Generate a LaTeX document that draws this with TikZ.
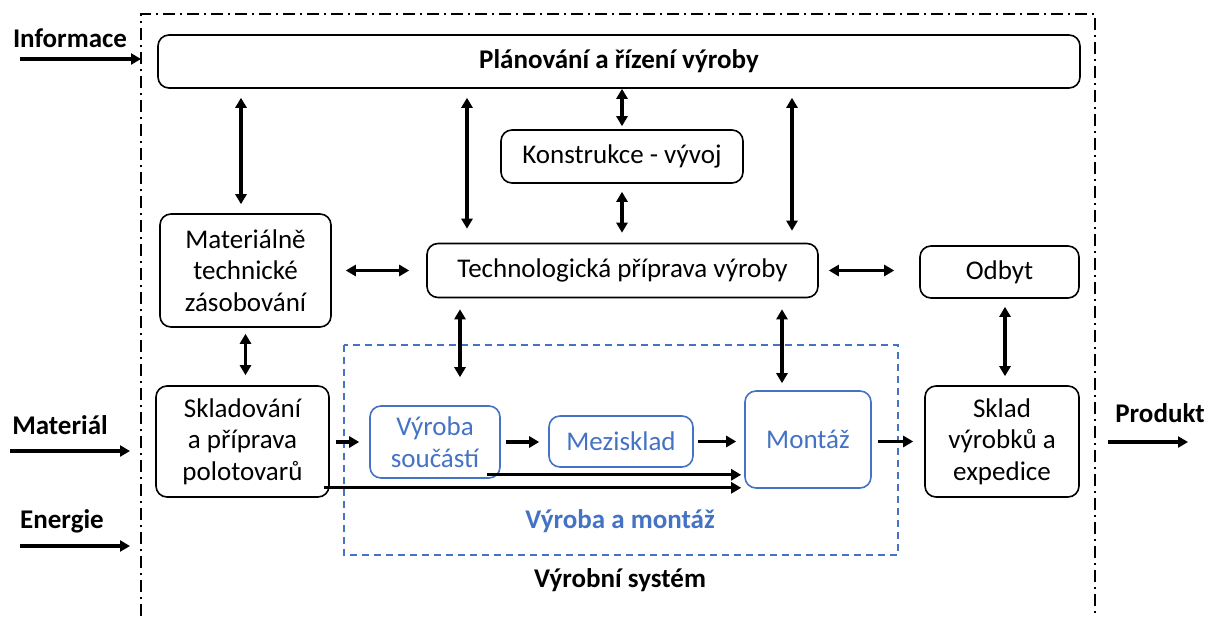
\documentclass[tikz,border=0pt]{standalone}
\usepackage{fontspec}
\setmainfont{Carlito}
\usetikzlibrary{arrows.meta,calc}
\definecolor{accent}{HTML}{4472C4}
\tikzset{
  box/.style={draw, line width=1.6pt, rounded corners=11pt, align=center,
    inner sep=2pt, font=\fontsize{27}{31.5}\selectfont},
  bluebox/.style={box, draw=accent, text=accent},
  dbl/.style={{Triangle[length=10pt,width=11pt]}-{Triangle[length=10pt,width=11pt]}, line width=3.2pt},
  sgl/.style={-{Triangle[length=10pt,width=11pt]}, line width=3.2pt},
  lbl/.style={font=\fontsize{27}{31}\selectfont\bfseries},
}
\begin{document}
\begin{tikzpicture}[x=1pt,y=-1pt]
\useasboundingbox (0,0) rectangle (1205,616);

% system boundary
\draw[line width=1.4pt, dash pattern=on 12pt off 5pt on 2pt off 5pt]
  (141,616) -- (141,14) -- (1095,14) -- (1095,616);
% production and assembly area
\draw[accent, line width=1.3pt, dash pattern=on 7pt off 5pt] (344,345) rectangle (898,555);

% blocks
\node[box, minimum width=922pt, minimum height=53pt, font=\fontsize{27}{31}\selectfont\bfseries] (plan) at (619,61.5) {Plánování a řízení výroby};
\node[box, minimum width=242pt, minimum height=53pt] (kon) at (622,156.5) {Konstrukce - vývoj};
\node[box, minimum width=171pt, minimum height=113pt] (mat) at (245.5,270.5) {Materiálně\\technické\\zásobování};
\node[box, minimum width=391pt, minimum height=54pt] (tech) at (622.5,270.5) {Technologická příprava výroby};
\node[box, minimum width=159pt, minimum height=52pt] (odb) at (999.5,272) {Odbyt};
\node[box, minimum width=173pt, minimum height=111pt] (skl) at (242.5,441.5) {Skladování\\a příprava\\polotovarů};
\node[box, minimum width=154pt, minimum height=111pt] (exp) at (1002,441.5) {Sklad\\výrobků a\\expedice};
\node[bluebox, minimum width=130pt, minimum height=72pt] (vys) at (435,442) {Výroba\\součástí};
\node[bluebox, minimum width=144pt, minimum height=51pt] (mez) at (621,441.5) {Mezisklad};
\node[bluebox, minimum width=126pt, minimum height=97pt] (mon) at (808,439.5) {Montáž};

% labels
\node[lbl, text=accent] (vam) at (620,521) {Výroba a montáž};
\node[lbl] (sys) at (620,580) {Výrobní systém};
\node[lbl] (inf) at (70,38) {Informace};
\node[lbl] (mtl) at (60,425) {Materiál};
\node[lbl] (ene) at (62,521) {Energie};
\node[lbl] (pro) at (1160,413) {Produkt};

% inputs and output
\coordinate (infA) at (20,59);  \coordinate (infB) at (141,59);
\coordinate (mtlA) at (10,451); \coordinate (mtlB) at (130,451);
\coordinate (eneA) at (20,546); \coordinate (eneB) at (130,546);
\coordinate (proA) at (1108,442); \coordinate (proB) at (1188,442);
\draw[sgl] (infA) -- (infB);
\draw[sgl] (mtlA) -- (mtlB);
\draw[sgl] (eneA) -- (eneB);
\draw[sgl] (proA) -- (proB);

% information links
\draw[dbl, shorten <=9pt, shorten >=9pt] ([xshift=-4.5pt]mat.north |- plan.south) -- ([xshift=-4.5pt]mat.north);
\draw[dbl, shorten <=9pt, shorten >=14pt] ([xshift=-155.5pt]tech.north |- plan.south) -- ([xshift=-155.5pt]tech.north);
\draw[dbl, shorten <=9pt, shorten >=12pt] ([xshift=169.5pt]tech.north |- plan.south) -- ([xshift=169.5pt]tech.north);
\draw[dbl, shorten <=0pt, shorten >=3pt] (kon.north |- plan.south) -- (kon.north);
\draw[dbl, shorten <=8pt, shorten >=10pt] (kon.south) -- (kon.south |- tech.north);
\draw[dbl, shorten <=14pt, shorten >=17pt] (mat.east |- tech.west) -- (tech.west);
\draw[dbl, shorten <=10pt, shorten >=25pt] (tech.east) -- (tech.east -| odb.west);
\draw[dbl, shorten <=6pt, shorten >=10pt] (mat.south) -- (mat.south |- skl.north);
\draw[dbl, shorten <=11pt, shorten >=28pt] ([xshift=-162.5pt]tech.south) -- ([xshift=-162.5pt]tech.south |- vys.north);
\draw[dbl, shorten <=11pt, shorten >=7pt] ([xshift=159.5pt]tech.south) -- ([xshift=159.5pt]tech.south |- mon.north);
\draw[dbl, shorten <=8pt, shorten >=9pt] ([xshift=5.5pt]odb.south) -- ([xshift=5.5pt]odb.south |- exp.north);

% material flow
\draw[sgl, shorten <=6pt, shorten >=10pt] (skl.east |- vys.west) -- (vys.west);
\draw[sgl, shorten <=5pt, shorten >=9pt] (vys.east) -- (vys.east -| mez.west);
\draw[sgl, shorten <=4pt, shorten >=8pt] (mez.east) -- (mez.east -| mon.west);
\draw[sgl, shorten <=6pt, shorten >=11pt] (mon.east |- exp.west) -- (exp.west);
\draw[sgl, shorten >=3pt] ([xshift=-14pt,yshift=4pt]vys.south east) -- ([yshift=4pt]vys.south east -| mon.west);
\draw[sgl, shorten >=3pt] ([xshift=-6pt,yshift=10pt]skl.south east) -- ([yshift=10pt]skl.south east -| mon.west);
\end{tikzpicture}
\end{document}
